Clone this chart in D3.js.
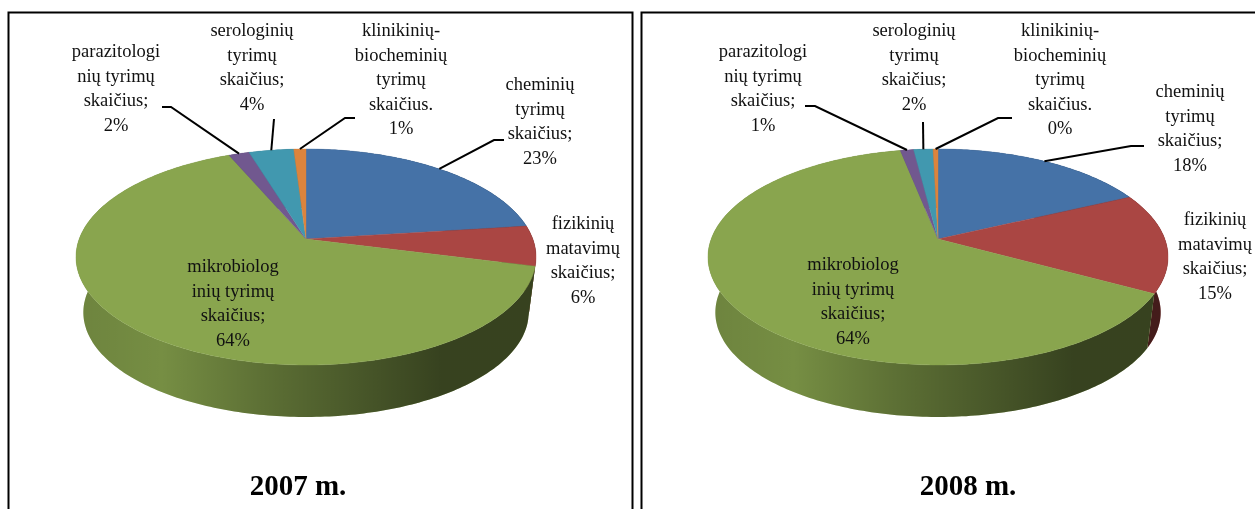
<!DOCTYPE html>
<meta charset="utf-8">
<script src="https://d3js.org/d3.v7.min.js"></script>
<style>
    html, body { margin: 0; padding: 0; background: #fff; overflow: hidden; }
    svg { display: block; filter: blur(0.4px); }
</style>
<body>
<div id="my_dataviz"></div>
<script>
    const categories = ["cheminių", "fizikinių", "mikrobiologinių", "parazitologinių", "serologinių", "klinikinių"];
    const colours = ["#4572a7", "#aa4643", "#89a54e", "#71588f", "#4198af", "#db843d"];

    // slice sizes, the printed labels are rounded
    const values2007 = [23, 6, 64.6, 1.7, 3.7, 1];
    const values2008 = [18, 15, 64, 1.1, 1.6, 0.4];
    const printed2007 = ["23%", "6%", "64%", "2%", "4%", "1%"];
    const printed2008 = ["18%", "15%", "64%", "1%", "2%", "0%"];

    const labelLines = [
        ["cheminių", "tyrimų", "skaičius;"],
        ["fizikinių", "matavimų", "skaičius;"],
        ["mikrobiolog", "inių tyrimų", "skaičius;"],
        ["parazitologi", "nių tyrimų", "skaičius;"],
        ["serologinių", "tyrimų", "skaičius;"],
        ["klinikinių-", "biocheminių", "tyrimų", "skaičius."]
    ];

    const width = 1255, height = 509;
    const lineStep = 24.5;

    // label place (centre x, first line centre y) and leader line start/elbow
    const panels = [
        {
            title: "2007 m.", values: values2007, printed: printed2007,
            frame: [8.5, 12.5, 624], cx: 306, titleX: 298,
            labels: [[540, 85], [583, 224], [233, 267], [116, 52], [252, 31], [401, 31]],
            leaders: [[[504, 140], [494, 140]], null, null, [[162, 107], [171, 107]], [[274, 119], [274, 119]], [[355, 118], [345, 118]]]
        },
        {
            title: "2008 m.", values: values2008, printed: printed2008,
            frame: [641.5, 12.5, 640], cx: 938, titleX: 968,
            labels: [[1190, 92], [1215, 220], [853, 265], [763, 52], [914, 31], [1060, 31]],
            leaders: [[[1144, 146], [1131, 146]], null, null, [[805, 106], [815, 106]], [[923, 122], [923, 122]], [[1012, 118], [998, 118]]]
        }
    ];

    // pie disc seen in perspective: a unit circle pushed through a projective map
    const apexY = 239, radiusX = 226.8, radiusY = 105, tilt = 1 / 6;
    const wallDrop = 56, wallShrink = 0.968;

    function project(cx, angle, lower) {
        let X = Math.sin(angle), Y = -Math.cos(angle);
        let w = 1 - tilt * Y;
        let s = lower ? wallShrink : 1;
        return [cx + radiusX * s * X / w, apexY + (lower ? wallDrop : 0) + radiusY * s * Y / w];
    }

    const colour = d3.scaleOrdinal().domain(categories).range(colours);
    const pie = d3.pie().sort(null).value(d => d);
    const line = d3.line();

    const svg = d3.select("#my_dataviz")
        .append("svg")
        .attr("width", width)
        .attr("height", height);

    svg.append("rect").attr("width", width).attr("height", height).attr("fill", "#fff");

    const defs = svg.append("defs");

    function arcPoints(cx, slice, lower) {
        let n = Math.max(2, Math.ceil((slice.endAngle - slice.startAngle) * 60));
        return d3.range(n + 1).map(i => project(cx, slice.startAngle + (slice.endAngle - slice.startAngle) * i / n, lower));
    }

    panels.forEach(function (panel, p) {
        let g = svg.append("g");
        let slices = pie(panel.values);

        // frame, it runs off the bottom of the picture
        let f = panel.frame;
        g.append("path")
            .attr("d", line([[f[0], height + 5], [f[0], f[1]], [f[0] + f[2], f[1]], [f[0] + f[2], height + 5]]))
            .attr("fill", "none")
            .attr("stroke", "#000")
            .attr("stroke-width", 2);

        // darkening of the side wall from left to right
        let gradId = "wall" + p;
        let grad = defs.append("linearGradient")
            .attr("id", gradId)
            .attr("gradientUnits", "userSpaceOnUse")
            .attr("x1", panel.cx - 225).attr("x2", panel.cx + 225)
            .attr("y1", 0).attr("y2", 0);
        [[0, 0.2], [0.18, 0.14], [0.4, 0.32], [0.6, 0.46], [0.8, 0.6], [1, 0.6]].forEach(function (s) {
            grad.append("stop").attr("offset", s[0]).attr("stop-color", "#000").attr("stop-opacity", s[1]);
        });

        // walls
        slices.forEach(function (d) {
            let pts = arcPoints(panel.cx, d, false).concat(arcPoints(panel.cx, d, true).reverse());
            let path = line(pts) + "Z";
            g.append("path").attr("d", path).attr("fill", colours[d.index]);
            g.append("path").attr("d", path).attr("fill", "url(#" + gradId + ")");
        });

        // top face
        slices.forEach(function (d) {
            let pts = [[panel.cx, apexY]].concat(arcPoints(panel.cx, d, false));
            g.append("path")
                .attr("d", line(pts) + "Z")
                .attr("fill", colours[d.index])
                .attr("stroke", colours[d.index])
                .attr("stroke-width", 0.4);
        });

        // leader lines
        slices.forEach(function (d, i) {
            let lead = panel.leaders[i];
            if (!lead) return;
            let rim = project(panel.cx, (d.startAngle + d.endAngle) / 2, false);
            g.append("path")
                .attr("d", line([lead[0], lead[1], rim]))
                .attr("fill", "none")
                .attr("stroke", "#000")
                .attr("stroke-width", 2);
        });

        // labels
        categories.forEach(function (c, i) {
            let place = panel.labels[i];
            let rows = labelLines[i].concat([panel.printed[i]]);
            g.append("text")
                .attr("text-anchor", "middle")
                .style("font-family", "'Liberation Serif', serif")
                .style("font-size", "18.5px")
                .attr("fill", "#111")
                .selectAll("tspan")
                .data(rows)
                .enter()
                .append("tspan")
                .attr("x", place[0])
                .attr("y", (d, k) => place[1] + 5 + k * lineStep)
                .text(d => d);
        });

        g.append("text")
            .attr("x", panel.titleX)
            .attr("y", 495)
            .attr("text-anchor", "middle")
            .style("font-family", "'Liberation Serif', serif")
            .style("font-weight", "bold")
            .style("font-size", "29px")
            .attr("fill", "#000")
            .text(panel.title);
    });
</script>
</body>
</html>
